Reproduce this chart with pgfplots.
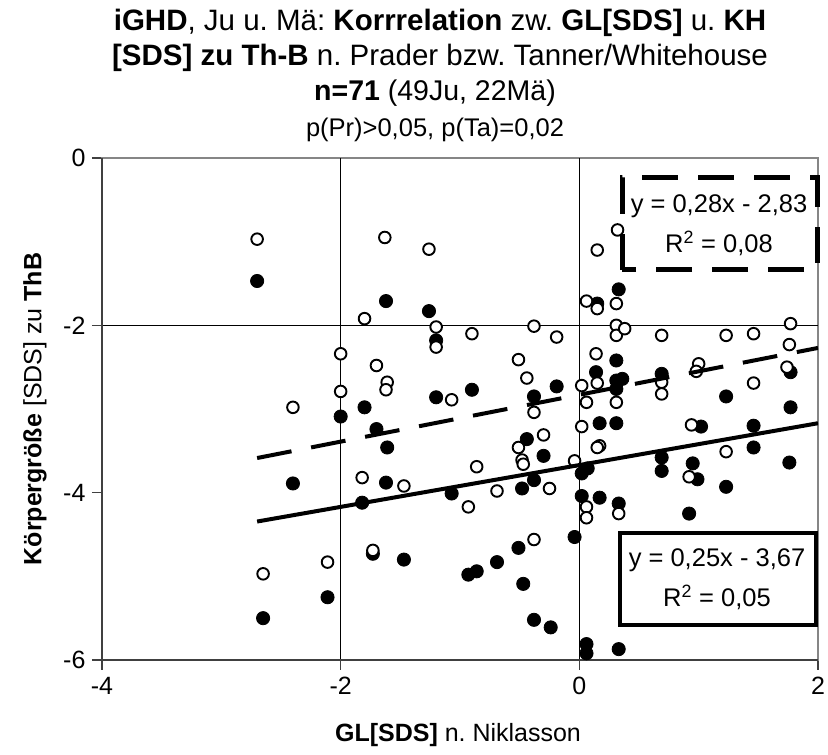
\documentclass[border=0pt]{standalone}
\usepackage{fontspec}
\setmainfont{Liberation Sans}
\usepackage{pgfplots}
\pgfplotsset{compat=1.18}
\definecolor{axdark}{RGB}{64,64,64}
\definecolor{axgray}{RGB}{134,134,134}
\frenchspacing
\begin{document}
\frenchspacing
\begin{tikzpicture}
\begin{axis}[
  at={(0pt,0pt)}, anchor=south west,
  scale only axis, width=716pt, height=502pt,
  xmin=-4, xmax=2, ymin=-6, ymax=0,
  xtick={-4,-2,0,2}, ytick={-6,-4,-2,0},
  xtick pos=left, ytick pos=left,
  axis line style={axgray,line width=2pt},
  tick align=outside, major tick length=10pt,
  tick style={axdark,line width=1.5pt},
  ticklabel style={font=\fontsize{25}{30}\selectfont},
  xticklabel style={yshift=-4pt},
  yticklabel style={xshift=-3pt},
  /pgf/number format/assume math mode=true,
  clip mode=individual,
]
% grid lines
\draw[black,line width=1.3pt] (axis cs:-2,-6) -- (axis cs:-2,0);
\draw[black,line width=1.3pt] (axis cs:0,-6) -- (axis cs:0,0);
\draw[black,line width=1.3pt] (axis cs:-4,-2) -- (axis cs:2,-2);
\draw[axdark,line width=2pt] (rel axis cs:0,1) -- (rel axis cs:0,0) -- (rel axis cs:1,0);
% filled series (Tanner/Whitehouse)
\addplot[only marks, mark=*, mark size=6.6pt, mark options={fill=black,draw=black,line width=0.8pt}] coordinates {
(-2.70,-1.47) (-1.62,-1.71) (-1.26,-1.83) (0.33,-1.57) (0.15,-1.74)
(-1.20,-2.18) (-0.90,-2.77) (-1.20,-2.86) (-0.38,-2.85) (-0.19,-2.73)
(0.14,-2.56) (0.31,-2.42) (0.31,-2.66) (0.36,-2.64) (0.31,-2.76)
(0.69,-2.58) (1.77,-2.56) (1.23,-2.85) (1.77,-2.98) (0.31,-3.17)
(0.17,-3.17) (1.02,-3.21) (1.46,-3.20) (1.46,-3.46) (1.76,-3.64)
(0.69,-3.58) (0.69,-3.74) (0.95,-3.65) (0.99,-3.84) (1.23,-3.93)
(0.92,-4.25) (0.17,-4.06) (0.33,-4.13) (0.33,-5.87) (-0.44,-3.36)
(-0.30,-3.56) (0.02,-3.77) (0.07,-3.71) (-0.38,-3.85) (-0.48,-3.95)
(-1.07,-4.01) (0.02,-4.04) (-0.04,-4.53) (-0.51,-4.66) (-0.69,-4.83)
(-0.86,-4.94) (-0.93,-4.98) (-0.47,-5.09) (-0.38,-5.52) (-0.24,-5.61)
(0.06,-5.81) (0.06,-5.92) (-2.00,-3.09) (-1.80,-2.98) (-1.70,-3.24)
(-1.61,-3.46) (-2.40,-3.89) (-1.62,-3.88) (-1.82,-4.12) (-1.73,-4.73)
(-1.47,-4.80) (-2.11,-5.25) (-2.65,-5.50)
};
% open series (Prader)
\addplot[only marks, mark=*, mark size=5.8pt, mark options={fill=white,draw=black,line width=1.9pt}] coordinates {
(-2.70,-0.97) (-1.63,-0.95) (-1.26,-1.09) (-1.80,-1.92) (-2.00,-2.34)
(-1.70,-2.48) (-1.61,-2.68) (-1.62,-2.77) (-2.00,-2.79) (-2.40,-2.98)
(-1.20,-2.02) (-1.20,-2.26) (-0.90,-2.10) (-0.38,-2.01) (-0.19,-2.14)
(-0.51,-2.41) (-0.44,-2.63) (-1.07,-2.89) (-0.38,-3.04) (0.02,-2.72)
(0.06,-2.92) (0.14,-2.34) (0.15,-2.69) (0.31,-2.92) (0.32,-0.86)
(0.15,-1.10) (0.06,-1.71) (0.15,-1.80) (0.31,-1.74) (0.31,-2.00)
(0.31,-2.12) (0.38,-2.04) (0.69,-2.12) (0.69,-2.68) (0.69,-2.82)
(1.00,-2.46) (0.98,-2.55) (1.23,-2.12) (1.46,-2.10) (1.77,-1.98)
(1.76,-2.23) (1.74,-2.50) (1.46,-2.69) (0.17,-3.44) (0.94,-3.19)
(1.23,-3.51) (0.92,-3.81) (0.33,-4.25) (0.02,-3.21) (0.15,-3.46)
(-0.30,-3.31) (-0.51,-3.46) (-0.48,-3.61) (-0.47,-3.66) (-0.86,-3.69)
(-0.04,-3.62) (-0.69,-3.98) (-0.25,-3.95) (-0.93,-4.17) (0.06,-4.17)
(0.06,-4.30) (-0.38,-4.56) (-1.82,-3.82) (-1.47,-3.92) (-1.73,-4.69)
(-2.11,-4.83) (-2.65,-4.97)
};
% trend lines
\addplot[black, line width=4pt, dash pattern=on 35pt off 20pt] coordinates {(-2.70,-3.586) (2,-2.27)};
\addplot[black, line width=4pt] coordinates {(-2.70,-4.345) (2,-3.17)};
\end{axis}
% trendline label boxes
\draw[black,line width=5pt,dash pattern=on 36pt off 20pt] (520pt,390pt) rectangle (715pt,482pt);
\node[font=\fontsize{25.5}{30}\selectfont] at (617pt,454pt) {y = 0,28x - 2,83};
\node[font=\fontsize{25.5}{30}\selectfont] at (617pt,417pt) {R\textsuperscript{2} = 0,08};
\draw[black,line width=4pt] (518pt,35pt) rectangle (714pt,127pt);
\node[font=\fontsize{25.5}{30}\selectfont] at (615pt,100pt) {y = 0,25x - 3,67};
\node[font=\fontsize{25.5}{30}\selectfont] at (615pt,63pt) {R\textsuperscript{2} = 0,05};
% titles
\node[anchor=base,font=\fontsize{29.5}{34}\selectfont] at (338pt,629pt) {\textbf{iGHD}, Ju u. Mä: \textbf{Korrrelation} zw. \textbf{GL[SDS]} u. \textbf{KH}};
\node[anchor=base,font=\fontsize{29.5}{34}\selectfont] at (338pt,594pt) {\textbf{[SDS] zu Th-B} n. Prader bzw. Tanner/Whitehouse};
\node[anchor=base,font=\fontsize{28.5}{34}\selectfont] at (333pt,559pt) {\textbf{n=71} (49Ju, 22Mä)};
\node[anchor=base,font=\fontsize{25.5}{30}\selectfont] at (333pt,523pt) {p(Pr)>0,05, p(Ta)=0,02};
% axis labels
\node[rotate=90,font=\fontsize{25}{30}\selectfont] at (-67pt,251pt) {\textbf{Körpergröße} [SDS] zu \textbf{ThB}};
\node[font=\fontsize{25}{30}\selectfont] at (356pt,-75pt) {\textbf{GL[SDS]} n. Niklasson};
\pgfresetboundingbox
\path[use as bounding box] (-102pt,-95pt) rectangle (726pt,660pt);
\end{tikzpicture}
\end{document}
